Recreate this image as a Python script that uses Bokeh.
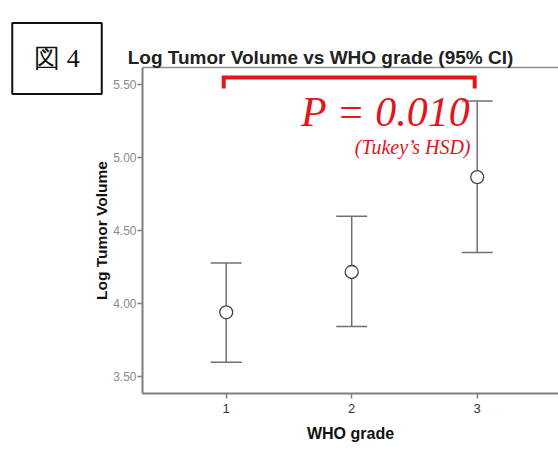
from bokeh.plotting import figure
from bokeh.models import (ColumnDataSource, Whisker, TeeHead, Label, LinearAxis,
                          FixedTicker, NumeralTickFormatter, Range1d)
from bokeh.embed import file_html
from bokeh.resources import INLINE

# ---- data ----
grades = [1, 2, 3]
grade_labels = ["1", "2", "3"]
means = [3.938, 4.215, 4.867]
ci_lower = [3.595, 3.840, 4.349]
ci_upper = [4.277, 4.598, 5.389]
y_ticks = [3.50, 4.00, 4.50, 5.00, 5.50]
comparison = [1, 3]
p_text = "P = 0.010"
test_text = "(Tukey\u2019s HSD)"
title_text = "Log Tumor Volume vs WHO grade (95% CI)"
fig_label = "\u56f3 4"

# ---- geometry ----
W, H = 558, 452
FL, FR, FT, FB = 142, 558, 67, 393
x0, x1 = 0.333, 0.333 + (FR - FL) / 125.5
y0, y1 = 3.38, 5.62

def xd(sx):
    return x0 + (sx - FL) / (FR - FL) * (x1 - x0)

def yd(sy):
    return y1 - (sy - FT) / (FB - FT) * (y1 - y0)

p = figure(width=W, height=H, output_backend="svg", toolbar_location=None,
           x_range=Range1d(x0, x1), y_range=Range1d(y0, y1),
           min_border_left=FL, min_border_right=W - FR,
           min_border_top=FT, min_border_bottom=H - FB,
           background_fill_color="white", border_fill_color="white")
p.outline_line_color = None
p.grid.visible = False

axis_grey = "#7f7f7f"

# x axis
xa = p.xaxis[0]
xa.ticker = FixedTicker(ticks=grades)
xa.major_label_overrides = {g: l for g, l in zip(grades, grade_labels)}
xa.axis_line_color = axis_grey
xa.axis_line_width = 2
xa.major_tick_line_color = axis_grey
xa.major_tick_line_width = 1.5
xa.major_tick_in = 0
xa.major_tick_out = 5
xa.minor_tick_line_color = None
xa.major_label_text_font = "Liberation Sans"
xa.major_label_text_font_size = "13px"
xa.major_label_text_color = "#333333"
xa.major_label_standoff = 5
xa.axis_label = "WHO grade"
xa.axis_label_text_font = "Liberation Sans"
xa.axis_label_text_font_size = "16px"
xa.axis_label_text_font_style = "bold"
xa.axis_label_text_color = "#111111"
xa.axis_label_standoff = 9

# y axis
ya = p.yaxis[0]
ya.ticker = FixedTicker(ticks=y_ticks)
ya.formatter = NumeralTickFormatter(format="0.00")
ya.axis_line_color = axis_grey
ya.axis_line_width = 2
ya.major_tick_line_color = axis_grey
ya.major_tick_line_width = 1.5
ya.major_tick_in = 0
ya.major_tick_out = 5
ya.minor_tick_line_color = None
ya.major_label_text_font = "Liberation Sans"
ya.major_label_text_font_size = "12px"
ya.major_label_text_color = "#8a8a8a"
ya.major_label_standoff = 1
ya.axis_label = "Log Tumor Volume"
ya.axis_label_text_font = "Liberation Sans"
ya.axis_label_text_font_size = "15.5px"
ya.axis_label_text_font_style = "bold"
ya.axis_label_text_color = "#111111"
ya.axis_label_standoff = 0

# top frame line
top = LinearAxis(ticker=FixedTicker(ticks=[]), axis_line_color="#909090",
                 axis_line_width=1.5, major_tick_line_color=None,
                 minor_tick_line_color=None, major_label_text_font_size="0px",
                 major_label_standoff=0)
p.add_layout(top, "above")

# error bars
src = ColumnDataSource(dict(grade=grades, mean=means, lower=ci_lower, upper=ci_upper))
wc = "#707070"
wh = Whisker(source=src, base="grade", lower="lower", upper="upper",
             line_color=wc, line_width=1.5,
             lower_head=TeeHead(size=31, line_color=wc, line_width=1.5),
             upper_head=TeeHead(size=31, line_color=wc, line_width=1.5))
p.add_layout(wh)
p.scatter(x="grade", y="mean", source=src, marker="circle", size=13,
          fill_color="white", line_color="#444444", line_width=1.3)

# significance bracket
red = "#e2151b"
bx0, bx1 = comparison[0] - 0.02, comparison[1] - 0.02
by, bt = 5.552, 5.476
p.line(x=[bx0, bx0, bx1, bx1], y=[bt, by, by, bt], line_color=red,
       line_width=4, line_join="miter", line_cap="butt")

# annotations
p.add_layout(Label(x=xd(470), y=yd(111), text=p_text, text_align="right",
                   text_baseline="alphabetic", text_font="Liberation Serif",
                   text_font_style="italic", text_font_size="42px",
                   text_color=red))
p.add_layout(Label(x=xd(470), y=yd(146), text=test_text, text_align="right",
                   text_baseline="alphabetic", text_font="Liberation Serif",
                   text_font_style="italic", text_font_size="20px",
                   text_color=red))
p.add_layout(Label(x=xd(320), y=yd(57), text=title_text, text_align="center",
                   text_baseline="alphabetic", text_font="Liberation Sans",
                   text_font_style="bold", text_font_size="19px",
                   text_color="#222222"), "above")
p.add_layout(Label(x=xd(56.5), y=yd(58), text=fig_label, text_align="center",
                   text_baseline="middle", text_font="Liberation Serif",
                   text_font_size="26px", text_color="#111111",
                   border_line_color="#111111", border_line_width=2,
                   background_fill_color="white",
                   padding=dict(left=22, right=22, top=21, bottom=21)), "left")

open("out.html", "w").write(file_html(p, INLINE))
